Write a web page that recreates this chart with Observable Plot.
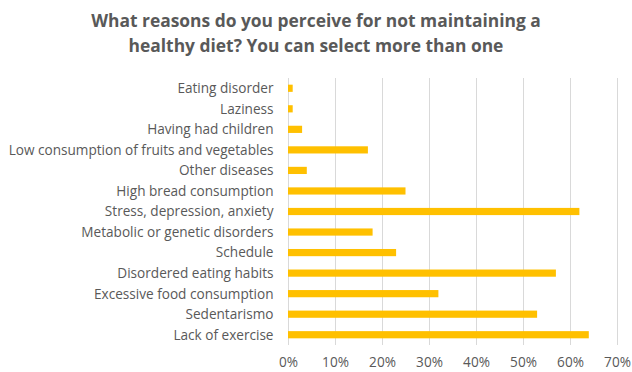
<!DOCTYPE html>
<html>
<head>
<meta charset="utf-8">
<script src="https://cdn.jsdelivr.net/npm/d3@7"></script>
<script src="https://cdn.jsdelivr.net/npm/@observablehq/plot@0.6"></script>
<style>
  body { margin: 0; background: #fff; }
  #title { width: 632px; height: 66px; box-sizing: border-box; padding-top: 8px; text-align: center;
    font-family: "Open Sans", sans-serif; font-weight: bold; font-size: 17.4px; line-height: 25px; color: #595959; }
  #chart svg { display: block; }
</style>
</head>
<body>
<div id="title">What reasons do you perceive for not maintaining a<br>healthy diet? You can select more than one</div>
<div id="chart"></div>
<script>
const categories = [
  "Eating disorder",
  "Laziness",
  "Having had children",
  "Low consumption of fruits and vegetables",
  "Other diseases",
  "High bread consumption",
  "Stress, depression, anxiety",
  "Metabolic or genetic disorders",
  "Schedule",
  "Disordered eating habits",
  "Excessive food consumption",
  "Sedentarismo",
  "Lack of exercise"
];
const values = [1, 1, 3, 17, 4, 25, 62, 18, 23, 57, 32, 53, 64];
const xTicks = [0, 10, 20, 30, 40, 50, 60, 70];

const data = categories.map((c, i) => ({category: c, value: values[i]}));

const chart = Plot.plot({
  width: 632,
  height: 306,
  marginTop: 12,
  marginBottom: 27,
  marginLeft: 288,
  marginRight: 15,
  style: {fontFamily: "Open Sans, sans-serif", fontSize: "13.6px", color: "#595959", background: "#fff"},
  x: {domain: [0, 70], ticks: xTicks, tickFormat: d => d + "%", label: null},
  y: {domain: categories, paddingInner: 0.65, paddingOuter: 0.325, round: false, label: null},
  marks: [
    Plot.gridX(xTicks, {stroke: "#d9d9d9", strokeOpacity: 1, strokeWidth: 1}),
    Plot.barX(data, {x: "value", y: "category", fill: "#FFC000"}),
    Plot.axisX(xTicks, {tickSize: 0, tickPadding: 12, tickFormat: d => d + "%", fill: "#595959", fontSize: 13.6, label: null}),
    Plot.axisY({tickSize: 0, tickPadding: 15, fill: "#595959", fontSize: 13.6, label: null})
  ]
});
document.getElementById("chart").appendChild(chart);
</script>
</body>
</html>
